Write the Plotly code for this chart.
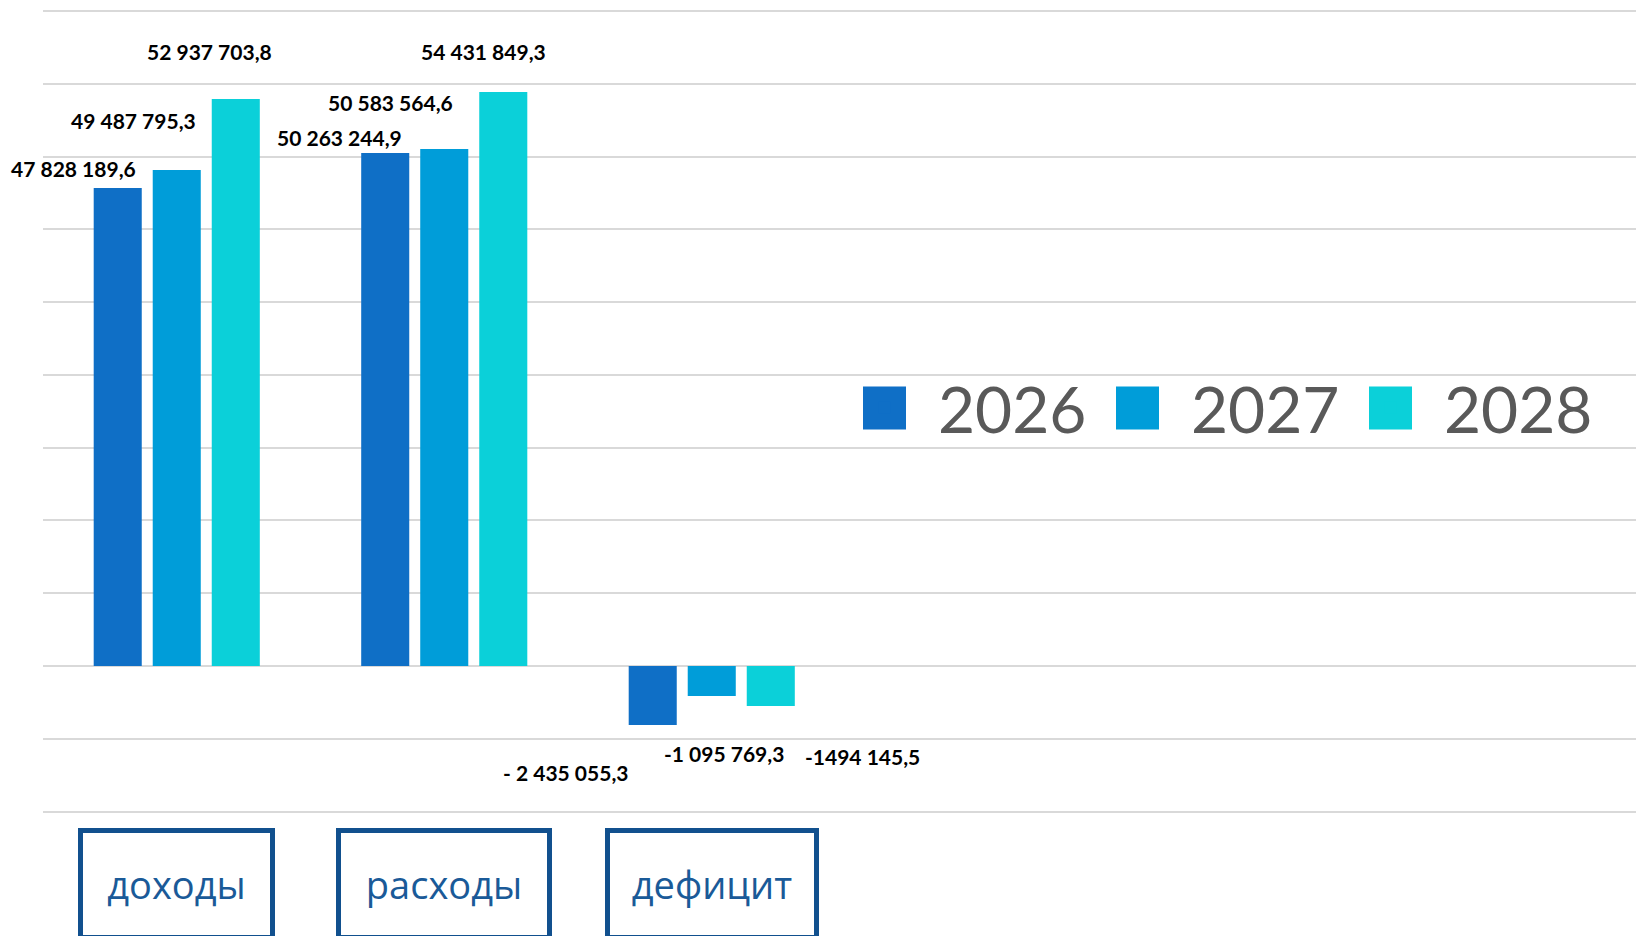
import plotly.graph_objects as go

# ---------------- data ----------------
categories = ["доходы", "расходы", "дефицит"]
years = ["2026", "2027", "2028"]

# bar heights as drawn in the chart (hidden axis, one gridline = 7 000 000)
values_2026 = [45_970_000, 49_340_000, -5_670_000]
values_2027 = [47_710_000, 49_720_000, -2_890_000]
values_2028 = [54_530_000, 55_210_000, -3_850_000]

# data-label texts as printed on the chart
labels_2026 = ["47 828 189,6", "50 263 244,9", "- 2 435 055,3"]
labels_2027 = ["49 487 795,3", "50 583 564,6", "-1 095 769,3"]
labels_2028 = ["52 937 703,8", "54 431 849,3", "-1494 145,5"]

series = [
    (years[0], values_2026, labels_2026),
    (years[1], values_2027, labels_2027),
    (years[2], values_2028, labels_2028),
]

# ---------------- styles / layout ----------------
colors = ["#0F6FC6", "#009DD9", "#0BD0D9"]
W, H = 1636, 936
M_L, M_R, M_T, M_B = 43, 0, 5, 116
plot_w = W - M_L - M_R
plot_h = H - M_T - M_B
STEP = 7_000_000
GRID_PX = 72.78
y_top = 9 * STEP + (11 - M_T) / GRID_PX * STEP
y_bot = -2 * STEP - ((H - M_B) - 811.6) / GRID_PX * STEP
cat_px = 267.5
x_right = -0.5 + plot_w / cat_px
BARGAP = 0.338
GROUPGAP = 0.186
pitch = cat_px * (1 - BARGAP) / 3

# manual nudges of the data labels (px): (dx from bar centre, dy from bar end)
label_nudges = [
    [(-44, 20), (-46, 16), (-87, -48)],
    [(-43, 49), (-54, 47), (12, -57)],
    [(-26, 48), (-20, 41), (92, -50)],
]
box_widths = [197, 216, 214]

fig = go.Figure()
for (name, vals, _), col in zip(series, colors):
    fig.add_trace(go.Bar(
        x=categories, y=vals, name=name,
        marker=dict(color=col, line=dict(width=0)),
        hoverinfo="skip",
    ))

annotations = []
for j, (name, vals, labs) in enumerate(series):
    for i, cat in enumerate(categories):
        dx, dy = label_nudges[j][i]
        annotations.append(dict(
            x=cat, y=vals[i], xref="x", yref="y",
            text=labs[i], showarrow=False,
            xanchor="center", yanchor="middle",
            xshift=(j - 1) * pitch + dx, yshift=dy,
            font=dict(family="Lato, 'Open Sans', sans-serif", size=21,
                      color="#000000", weight="bold"),
        ))

box_center_y = -(884 - (H - M_B)) / plot_h
for i, cat in enumerate(categories):
    annotations.append(dict(
        x=cat, y=box_center_y, xref="x", yref="paper",
        text=cat, showarrow=False,
        xanchor="center", yanchor="middle",
        width=box_widths[i] - 16, height=96, borderpad=3,
        bordercolor="#11508E", borderwidth=5, bgcolor="#FFFFFF",
        font=dict(family="'Open Sans', sans-serif", size=38, color="#1A5A98"),
    ))

# enlarged legend swatches drawn behind the legend's own symbols
legend_item_start = 831
symbol_c = 53.5
entry_pitch = 253
leg_y_px = 408
shapes = []
for j, col in enumerate(colors):
    cx = (legend_item_start + symbol_c + j * entry_pitch - M_L) / plot_w
    cy = ((H - M_B) - leg_y_px) / plot_h
    shapes.append(dict(
        type="rect", xref="paper", yref="paper",
        xsizemode="pixel", ysizemode="pixel",
        xanchor=cx, yanchor=cy,
        x0=-21.5, x1=21.5, y0=-21.5, y1=21.5,
        fillcolor=col, line=dict(width=0), layer="above",
    ))

fig.update_layout(
    width=W, height=H,
    margin=dict(l=M_L, r=M_R, t=M_T, b=M_B),
    paper_bgcolor="#FFFFFF", plot_bgcolor="#FFFFFF",
    barmode="group", bargap=BARGAP, bargroupgap=GROUPGAP,
    showlegend=True,
    legend=dict(
        orientation="h",
        x=(legend_item_start - M_L) / plot_w, xanchor="left",
        y=((H - M_B) - leg_y_px) / plot_h, yanchor="middle",
        bgcolor="rgba(0,0,0,0)", borderwidth=0,
        itemwidth=97, entrywidth=141, entrywidthmode="pixels",
        font=dict(family="Lato, 'Open Sans', sans-serif", size=64, color="#595959"),
        itemclick=False, itemdoubleclick=False,
    ),
    xaxis=dict(
        type="category", categoryorder="array", categoryarray=categories,
        range=[-0.5, x_right], showticklabels=False, showgrid=False,
        zeroline=False, showline=False, ticks="",
    ),
    yaxis=dict(
        range=[y_bot, y_top], tick0=0, dtick=STEP,
        showticklabels=False, showgrid=True, gridcolor="#D9D9D9", gridwidth=2,
        zeroline=False, showline=False, ticks="",
    ),
    annotations=annotations,
    shapes=shapes,
    hovermode=False,
)

fig.write_html(
    "out.html",
    config={"displayModeBar": False, "staticPlot": True},
    post_script="document.body.style.margin='0';document.body.style.overflow='hidden';",
)
